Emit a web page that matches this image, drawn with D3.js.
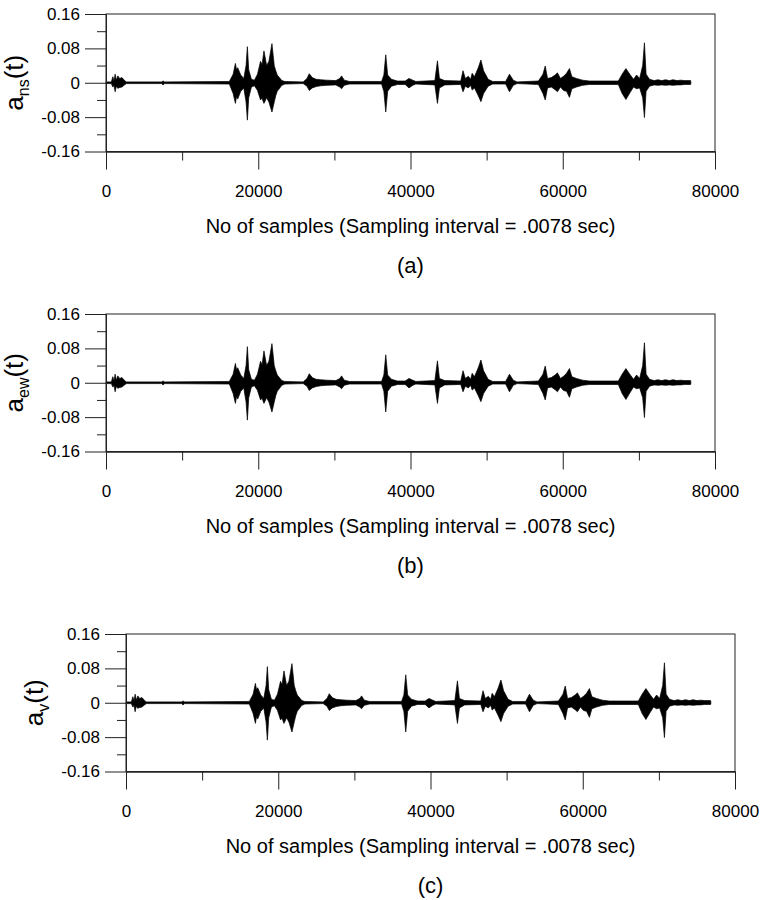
<!DOCTYPE html>
<html>
<head>
<meta charset="utf-8">
<script src="https://cdn.jsdelivr.net/npm/d3@7"></script>
<style>
body { margin: 0; background: #fff; }
text { font-family: "Liberation Sans", Arial, sans-serif; fill: #000; }
</style>
</head>
<body>
<div id="chart"></div>
<script>
// tick values
var yTicks = [-0.16, -0.08, 0, 0.08, 0.16];
var yMinor = [-0.12, -0.04, 0.04, 0.12];
var xTicks = [0, 20000, 40000, 60000, 80000];
var xMinor = [10000, 30000, 50000, 70000];

var components = ["ns", "ew", "v"];
var letters = ["(a)", "(b)", "(c)"];
var xTitle = "No of samples (Sampling interval = .0078 sec)";

// envelope of the record: [sample, upper, lower]
// the three components look the same at this resolution
var envNS = [
    [0, 0.002, -0.002], [700, 0.002, -0.002], [900, 0.014, -0.010], [1050, 0.004, -0.006],
    [1200, 0.020, -0.021], [1350, 0.006, -0.008], [1550, 0.016, -0.013], [1800, 0.010, -0.011],
    [2100, 0.012, -0.010], [2500, 0.004, -0.004], [2700, 0.002, -0.002], [7300, 0.002, -0.002],
    [7500, 0.004, -0.005], [7700, 0.002, -0.002], [16200, 0.003, -0.003], [16700, 0.020, -0.025],
    [17000, 0.045, -0.048], [17150, 0.030, -0.032], [17300, 0.035, -0.038], [17700, 0.018, -0.020],
    [18100, 0.010, -0.012], [18400, 0.040, -0.045], [18570, 0.084, -0.087], [18750, 0.030, -0.035],
    [19100, 0.008, -0.010], [19500, 0.006, -0.007], [19900, 0.020, -0.018], [20300, 0.050, -0.040],
    [20500, 0.042, -0.036], [20750, 0.074, -0.048], [21100, 0.040, -0.035], [21400, 0.050, -0.045],
    [21800, 0.091, -0.068], [22100, 0.040, -0.045], [22300, 0.028, -0.030], [22500, 0.018, -0.020],
    [23100, 0.005, -0.006], [23500, 0.003, -0.003], [25900, 0.002, -0.002], [26400, 0.010, -0.008],
    [26700, 0.021, -0.018], [27100, 0.012, -0.012], [27600, 0.008, -0.009], [28200, 0.007, -0.007],
    [29000, 0.006, -0.006], [30200, 0.005, -0.005], [30700, 0.010, -0.010], [30950, 0.016, -0.014],
    [31300, 0.006, -0.006], [32000, 0.003, -0.003], [36200, 0.003, -0.003], [36500, 0.018, -0.020],
    [36750, 0.065, -0.068], [37000, 0.018, -0.020], [37500, 0.008, -0.008], [38300, 0.004, -0.004],
    [39300, 0.004, -0.004], [39800, 0.010, -0.012], [40300, 0.006, -0.006], [40700, 0.003, -0.003],
    [43200, 0.005, -0.005], [43540, 0.051, -0.048], [43800, 0.010, -0.012], [44500, 0.005, -0.005],
    [46600, 0.004, -0.004], [46900, 0.028, -0.021], [47200, 0.010, -0.008], [47600, 0.015, -0.012],
    [47900, 0.008, -0.006], [48100, 0.022, -0.017], [48400, 0.014, -0.012], [48900, 0.035, -0.030],
    [49250, 0.053, -0.044], [49600, 0.028, -0.025], [50200, 0.008, -0.008], [50800, 0.003, -0.003],
    [52500, 0.003, -0.003], [53000, 0.020, -0.021], [53500, 0.006, -0.006], [54000, 0.002, -0.002],
    [56800, 0.004, -0.004], [57400, 0.020, -0.025], [57700, 0.039, -0.040], [58000, 0.010, -0.012],
    [58500, 0.012, -0.010], [59000, 0.018, -0.016], [59300, 0.023, -0.021], [59700, 0.010, -0.010],
    [60100, 0.015, -0.018], [60500, 0.022, -0.020], [60880, 0.033, -0.034], [61200, 0.014, -0.014],
    [61800, 0.010, -0.010], [62600, 0.006, -0.006], [63500, 0.004, -0.004], [67300, 0.004, -0.004],
    [67800, 0.020, -0.025], [68300, 0.033, -0.039], [68800, 0.020, -0.024], [69300, 0.008, -0.010],
    [69700, 0.018, -0.014], [70100, 0.010, -0.012], [70500, 0.040, -0.035], [70730, 0.093, -0.081],
    [70950, 0.020, -0.020], [71400, 0.008, -0.008], [72000, 0.005, -0.005], [72500, 0.007, -0.006],
    [73000, 0.005, -0.005], [73500, 0.007, -0.006], [74000, 0.005, -0.005], [74500, 0.007, -0.006],
    [75000, 0.005, -0.005], [75500, 0.006, -0.005], [76000, 0.005, -0.004], [76800, 0.005, -0.004],
    [76830, 0.001, -0.001]
];
var envEW = envNS;
var envV = envNS;
var records = [envNS, envEW, envV];

var W = 760, H = 900;
var plotW = 609, plotH = 137.5;
var panels = [
    { left: 106, top: 14 },
    { left: 106, top: 314 },
    { left: 126, top: 634 }
];

var svg = d3.select("#chart").append("svg")
    .attr("width", W)
    .attr("height", H);

var fmtY = function (d) { return d === 0 ? "0" : d.toFixed(2); };

panels.forEach(function (p, i) {
    var g = svg.append("g").attr("transform", "translate(" + p.left + "," + p.top + ")");

    var x = d3.scaleLinear().domain([0, 80000]).range([0, plotW]);
    var y = d3.scaleLinear().domain([-0.16, 0.16]).range([plotH, 0]);

    // signal
    var area = d3.area()
        .x(function (d) { return x(d[0]); })
        .y0(function (d) { return y(d[2]); })
        .y1(function (d) { return y(d[1]); });
    g.append("path")
        .datum(records[i])
        .attr("d", area)
        .attr("fill", "#000")
        .attr("stroke", "#000")
        .attr("stroke-width", 0.7)
        .attr("stroke-linejoin", "round");

    // frame
    g.append("rect")
        .attr("width", plotW)
        .attr("height", plotH)
        .attr("fill", "none")
        .attr("stroke", "#222")
        .attr("stroke-width", 1);

    // y axis
    g.append("g").call(d3.axisLeft(y).tickValues(yTicks).tickSize(21).tickSizeOuter(0).tickPadding(5).tickFormat(fmtY));
    g.append("g").call(d3.axisLeft(y).tickValues(yMinor).tickSize(9).tickSizeOuter(0).tickFormat(""));

    // x axis
    var xAx = g.append("g").attr("transform", "translate(0," + plotH + ")")
        .call(d3.axisBottom(x).tickValues(xTicks).tickSize(18).tickSizeOuter(0).tickFormat(d3.format("d")));
    g.append("g").attr("transform", "translate(0," + plotH + ")")
        .call(d3.axisBottom(x).tickValues(xMinor).tickSize(9).tickSizeOuter(0).tickFormat(""));

    g.selectAll(".domain").attr("stroke", "#222");
    g.selectAll(".tick line").attr("stroke", "#222");
    g.selectAll(".tick text").attr("font-size", 17).attr("font-family", "Liberation Sans, Arial, sans-serif").attr("fill", "#000");
    xAx.selectAll(".tick text").attr("dy", null).attr("y", 45);

    // axis title
    g.append("text")
        .attr("x", plotW / 2)
        .attr("y", plotH + 81)
        .attr("text-anchor", "middle")
        .attr("font-size", 20)
        .text(xTitle);

    // panel letter
    g.append("text")
        .attr("x", plotW / 2)
        .attr("y", plotH + 121)
        .attr("text-anchor", "middle")
        .attr("font-size", 22)
        .text(letters[i]);

    // y label a_xx(t)
    var yl = g.append("text")
        .attr("transform", "translate(-83," + y(0) + ") rotate(-90)")
        .attr("text-anchor", "middle")
        .attr("font-size", 26);
    yl.append("tspan").text("a");
    yl.append("tspan").attr("dy", 6).attr("font-size", 16).text(components[i]);
    yl.append("tspan").attr("dy", -6).text("(t)");
});
</script>
</body>
</html>
